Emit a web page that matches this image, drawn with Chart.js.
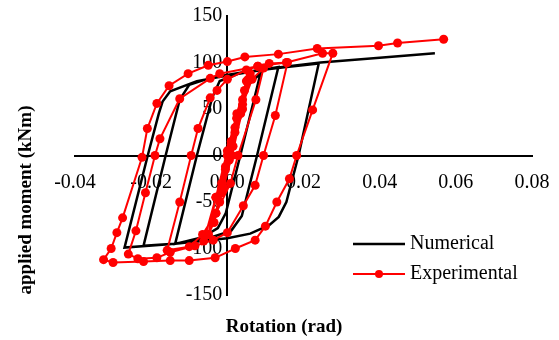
<!DOCTYPE html>
<html>
<head>
<meta charset="utf-8">
<script src="https://cdn.jsdelivr.net/npm/chart.js@4"></script>
<style>
  html, body { margin: 0; padding: 0; background: #fff; }
  #wrap { position: relative; width: 559px; height: 340px; }
</style>
</head>
<body>
<div id="wrap"><canvas id="hysteresis-chart" width="559" height="340"></canvas></div>
<script>
// axis ticks
const xTicks = [-0.04, -0.02, 0, 0.02, 0.04, 0.06, 0.08];
const yTicks = [-150, -100, -50, 0, 50, 100, 150];

// Numerical model (rotation rad, moment kNm)
const numRotation = [
    0, 0.0035, 0.0055, 0.0087,
    0.0034, -0.0004, -0.0025, -0.0065, -0.0137,
    -0.0080, -0.0040, -0.0020, 0.0030, 0.0134,
    0.0078, 0.0038, 0.0010, -0.0050, -0.0140, -0.0220,
    -0.0162, -0.0125, -0.0100, -0.0040, 0.0050, 0.0150, 0.0240,
    0.0187, 0.0155, 0.0135, 0.0110, 0.0060, 0.0000, -0.0137, -0.0270,
    -0.0209, -0.0180, -0.0170, -0.0150, -0.0080, 0.0000, 0.0100, 0.0245, 0.0400, 0.0545
];
const numMoment = [
    0, 57, 76, 88,
    0, -62, -78, -88, -95,
    0, 62, 80, 88, 95,
    0, -65, -81, -89, -95, -97,
    0, 60, 76, 84, 90, 95, 99,
    0, -50, -66, -75, -84, -89, -95, -99,
    0, 45, 58, 69, 80, 86, 93, 100, 105, 110
];

// Experimental test
const expRotation = [
    0, 0.0010, 0.0020, 0.0010, -0.0005, -0.0015, -0.0005, 0.0010, 0.0025, 0.0040,
    0.0020, 0.0005, -0.0015, -0.0030, -0.0015, 0.0005, 0.0025, 0.0045, 0.0055,
    0.0035, 0.0015, -0.0010, -0.0035, -0.0050, -0.0030, 0.0000, 0.0025, 0.0050, 0.0060,
    0.0040, 0.0012, -0.0020, -0.0050, -0.0062,
    -0.0030, 0.0005, 0.0040, 0.0065, 0.0095,
    0.0075, 0.0028, 0.0008, -0.0030, -0.0065, -0.0100, -0.0158,
    -0.0125, -0.0095, -0.0077, -0.0045, -0.0027, 0.0000, 0.0050, 0.0080, 0.0110, 0.0158,
    0.0126, 0.0095, 0.0073, 0.0042, 0.0000, -0.0037, -0.0085, -0.0150, -0.0185, -0.0235, -0.0260,
    -0.0240, -0.0215, -0.0190, -0.0177, -0.0125, -0.0045, -0.0020, 0.0080, 0.0155, 0.0250, 0.0277,
    0.0224, 0.0182, 0.0163, 0.0130, 0.0100, 0.0073, 0.0021, -0.0032, -0.0100, -0.0150, -0.0220, -0.0300, -0.0325,
    -0.0305, -0.0290, -0.0275, -0.0224, -0.0210, -0.0185, -0.0153, -0.0103, -0.0050, 0.0000,
    0.0046, 0.0134, 0.0236, 0.0397, 0.0447, 0.0568
];
const expMoment = [
    0, 15, 30, 10, -15, -35, -12, 12, 40, 60,
    25, -5, -40, -62, -30, 5, 40, 70, 82,
    45, 10, -35, -72, -85, -45, 5, 45, 80, 88,
    50, 0, -50, -85, -92,
    -45, 0, 55, 82, 94,
    60, 0, -30, -62, -85, -98, -102,
    -50, 0, 29, 62, 70, 82, 92, 96, 99, 100,
    43, 0, -32, -54, -83, -91, -97, -104, -110, -111, -106,
    -81, -40, 0, 18, 61, 83, 88, 96, 100, 110, 110,
    49, 0, -25, -50, -76, -91, -100, -110, -113, -113, -114, -115, -112,
    -100, -83, -67, -2, 29, 56, 75, 88, 97, 101,
    106, 109, 115, 118, 121, 125
];

function toPoints(xs, ys) {
    return xs.map((x, i) => ({x: x, y: ys[i]}));
}

const serif = '"Liberation Serif", "Times New Roman", serif';

// axis titles + legend box in the lower right, like the original sheet
const decorations = {
    id: 'decorations',
    afterDraw(chart) {
        const ctx = chart.ctx;
        ctx.save();
        ctx.fillStyle = '#000';
        ctx.font = 'bold 19px ' + serif;
        ctx.textAlign = 'center';
        ctx.textBaseline = 'middle';
        ctx.fillText('Rotation (rad)', 284, 327);
        ctx.translate(26, 200);
        ctx.rotate(-Math.PI / 2);
        ctx.fillText('applied moment (kNm)', 0, 0);
        ctx.restore();

        ctx.save();
        ctx.font = '20px ' + serif;
        ctx.textBaseline = 'middle';
        ctx.textAlign = 'left';
        chart.data.datasets.forEach((ds, i) => {
            const y = 244 + i * 30;
            ctx.strokeStyle = ds.borderColor;
            ctx.lineWidth = ds.borderWidth;
            ctx.beginPath();
            ctx.moveTo(353, y);
            ctx.lineTo(405, y);
            ctx.stroke();
            if (ds.pointRadius > 0) {
                ctx.fillStyle = ds.pointBackgroundColor;
                ctx.beginPath();
                ctx.arc(379, y, 4, 0, Math.PI * 2);
                ctx.fill();
            }
            ctx.fillStyle = '#000';
            ctx.fillText(ds.label, 410, y);
        });
        ctx.restore();
    }
};

function loadHysteresisChart() {
    const ctx = document.getElementById('hysteresis-chart').getContext('2d');
    new Chart(ctx, {
        type: 'scatter',
        data: {
            datasets: [{
                label: 'Numerical',
                data: toPoints(numRotation, numMoment),
                showLine: true,
                borderColor: '#000000',
                borderWidth: 2.5,
                pointRadius: 0,
                tension: 0,
                order: 1
            }, {
                label: 'Experimental',
                data: toPoints(expRotation, expMoment),
                showLine: true,
                borderColor: '#ff0000',
                backgroundColor: '#ff0000',
                pointBackgroundColor: '#ff0000',
                pointBorderWidth: 0,
                borderWidth: 2,
                pointRadius: 4.5,
                tension: 0,
                order: 0
            }]
        },
        options: {
            responsive: false,
            animation: false,
            layout: {padding: {left: 75, right: 27, top: 16, bottom: 45}},
            plugins: {
                legend: {display: false},
                tooltip: {enabled: false}
            },
            scales: {
                x: {
                    type: 'linear',
                    position: {y: 0},
                    min: xTicks[0],
                    max: xTicks[xTicks.length - 1],
                    afterBuildTicks: (scale) => { scale.ticks = xTicks.map(v => ({value: v})); },
                    grid: {display: false, drawTicks: false},
                    border: {color: '#000', width: 2},
                    ticks: {
                        color: '#000',
                        padding: 9,
                        maxRotation: 0,
                        // tall line box pushes labels down without widening the side padding
                        font: {family: serif, size: 20, lineHeight: 1.8},
                        callback: (v) => Number(v).toFixed(2)
                    }
                },
                y: {
                    type: 'linear',
                    position: {x: 0},
                    min: yTicks[0],
                    max: yTicks[yTicks.length - 1],
                    afterBuildTicks: (scale) => { scale.ticks = yTicks.map(v => ({value: v})); },
                    grid: {display: false, drawTicks: false},
                    border: {color: '#000', width: 2},
                    ticks: {
                        color: '#000',
                        font: {family: serif, size: 20},
                        // labels sit flush on a centred axis, so keep a small gap
                        callback: (v) => v + ' '
                    }
                }
            }
        },
        plugins: [decorations]
    });
}

window.addEventListener('load', () => {
    loadHysteresisChart();
});
</script>
</body>
</html>
